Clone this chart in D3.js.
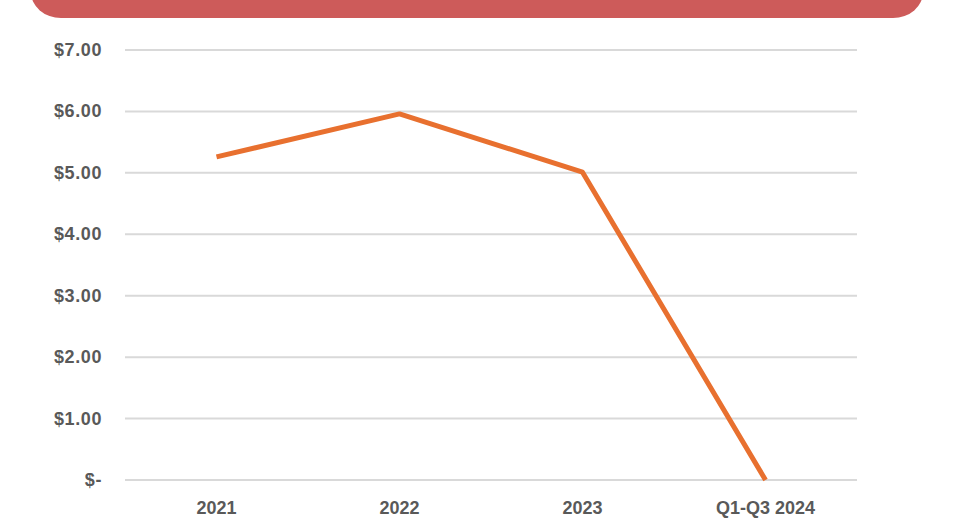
<!DOCTYPE html>
<html><head><meta charset="utf-8">
<script src="https://cdn.jsdelivr.net/npm/d3@7"></script>
<style>body{margin:0;background:#fff}svg{display:block}</style>
</head><body>
<script>
const categories = ["2021", "2022", "2023", "Q1-Q3 2024"];
const values = [5.26, 5.96, 5.01, 0];
const yTicks = [0, 1, 2, 3, 4, 5, 6, 7];

const W = 966, H = 523;
const svg = d3.select("body").append("svg").attr("width", W).attr("height", H);

// banner
svg.append("path")
  .attr("d", (() => { const x0 = 31, x1 = 923, y0 = -40, y1 = 18, rx = 30, ry = 26;
    return `M${x0},${y0} L${x1},${y0} L${x1},${y1 - ry} A${rx},${ry} 0 0 1 ${x1 - rx},${y1} L${x0 + rx},${y1} A${rx},${ry} 0 0 1 ${x0},${y1 - ry} Z`; })())
  .attr("fill", "#cd5b5a");

const x = d3.scalePoint().domain(categories).range([125, 857]).padding(0.5);
const y = d3.scaleLinear().domain([0, 7]).range([480, 50]);

const font = "'Liberation Sans', Arial, sans-serif";

svg.append("g").selectAll("line").data(yTicks).join("line")
  .attr("x1", 125).attr("x2", 857)
  .attr("y1", d => y(d)).attr("y2", d => y(d))
  .attr("stroke", "#d9d9d9").attr("stroke-width", 2);

svg.append("g").selectAll("text").data(yTicks).join("text")
  .attr("x", 102).attr("y", d => y(d) + 6)
  .attr("text-anchor", "end")
  .attr("font-family", font).attr("font-weight", "bold").attr("font-size", 18)
  .attr("letter-spacing", 0.6)
  .attr("fill", "#595959")
  .text(d => d === 0 ? "$-" : "$" + d.toFixed(2));

svg.append("g").selectAll("text").data(categories).join("text")
  .attr("x", d => x(d)).attr("y", 514)
  .attr("text-anchor", "middle")
  .attr("font-family", font).attr("font-weight", "bold").attr("font-size", 18)
  .attr("fill", "#595959")
  .text(d => d);

const line = d3.line().x((d, i) => x(categories[i])).y(d => y(d));
svg.append("path").datum(values)
  .attr("d", line)
  .attr("fill", "none").attr("stroke", "#e8702f").attr("stroke-width", 5)
  .attr("stroke-linejoin", "round");
</script>
</body></html>
